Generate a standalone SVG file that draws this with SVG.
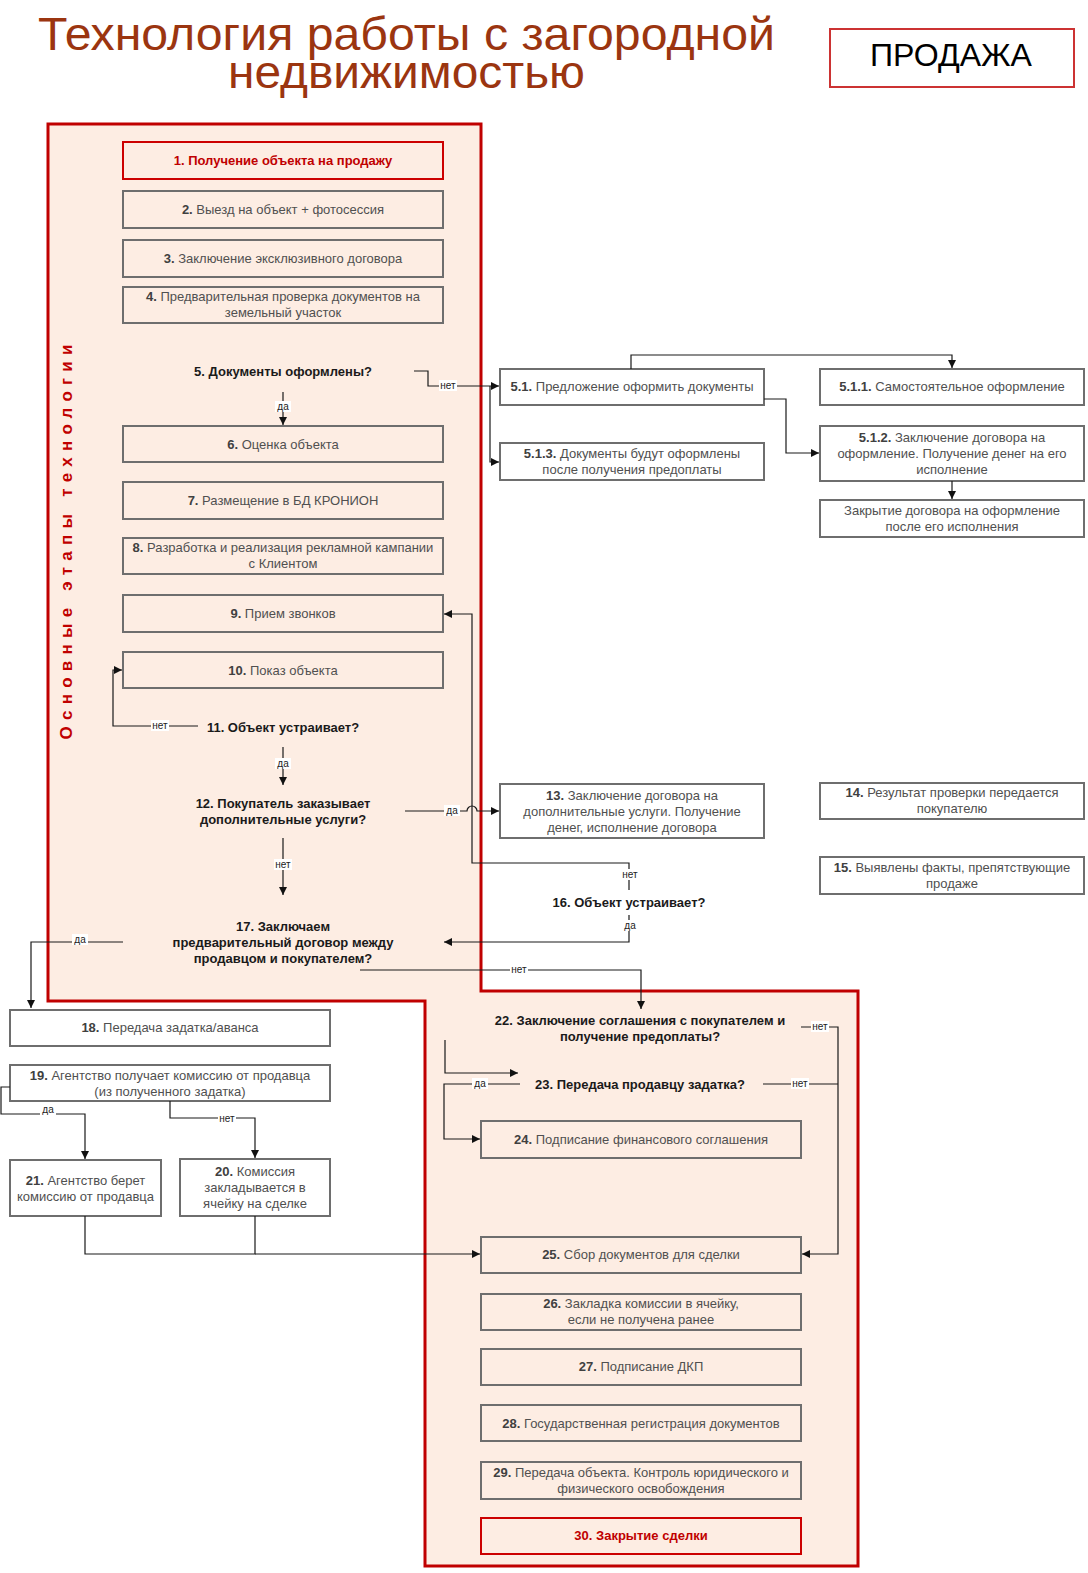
<svg xmlns="http://www.w3.org/2000/svg" width="1088" height="1573" viewBox="0 0 1088 1573">
<defs>
<style>
.t{font-family:"Liberation Sans",Arial,sans-serif;font-size:13px;fill:#505050;text-anchor:middle}
.t tspan.n{font-weight:bold;fill:#404040}
.d{font-family:"Liberation Sans",Arial,sans-serif;font-size:13px;font-weight:bold;fill:#1a1a1a;text-anchor:middle}
.box{fill:#fdede3;stroke:#6e6e6e;stroke-width:2}
.wbox{fill:#ffffff;stroke:#6e6e6e;stroke-width:2}
.rbox{fill:#fdede3;stroke:#cc0000;stroke-width:2}
.rt{font-family:"Liberation Sans",Arial,sans-serif;font-size:13px;font-weight:bold;fill:#c00000;text-anchor:middle}
.c{fill:none;stroke:#1a1a1a;stroke-width:1.2}
.cm{fill:none;stroke:#1a1a1a;stroke-width:1.2;marker-end:url(#arr)}
.lb{font-family:"Liberation Sans",Arial,sans-serif;font-size:10px;fill:#222;text-anchor:middle}
.lbg{fill:#ffffff}
</style>
<marker id="arr" viewBox="0 0 10 10" refX="10" refY="5" markerWidth="8" markerHeight="8" markerUnits="userSpaceOnUse" orient="auto">
<path d="M0,0 L10,5 L0,10 z" fill="#111"/>
</marker>
</defs>
<rect width="1088" height="1573" fill="#ffffff"/>

<g id="title">
<text x="406.5" y="50" font-family="'Liberation Sans',Arial,sans-serif" font-size="46" fill="#9b3510" text-anchor="middle" textLength="737" lengthAdjust="spacingAndGlyphs">Технология работы с загородной</text>
<text x="406.5" y="88" font-family="'Liberation Sans',Arial,sans-serif" font-size="46" fill="#9b3510" text-anchor="middle" textLength="357" lengthAdjust="spacingAndGlyphs">недвижимостью</text>
</g>
<g id="sale">
<rect x="830" y="29" width="244" height="58" fill="#ffffff" stroke="#cc3333" stroke-width="2"/>
<text x="951" y="66" font-family="'Liberation Sans',Arial,sans-serif" font-size="32" fill="#000" text-anchor="middle" textLength="162" lengthAdjust="spacingAndGlyphs">ПРОДАЖА</text>
</g>

<g id="region">
<path d="M48,124 H481 V991 H858 V1566 H425 V1001 H48 Z" fill="#fdede3" stroke="#c00000" stroke-width="3"/>
<text transform="translate(72,542) rotate(-90)" font-family="'Liberation Sans',Arial,sans-serif" font-size="17" font-weight="bold" fill="#c00000" text-anchor="middle" textLength="395" lengthAdjust="spacing">Основные этапы технологии</text>
</g>

<g id="n1"><rect class="rbox" x="123" y="142" width="320" height="37"/><text class="rt" x="283" y="165">1. Получение объекта на продажу</text></g>
<g id="n2"><rect class="box" x="123" y="191" width="320" height="37"/><text class="t" x="283" y="214"><tspan class="n">2.</tspan> Выезд на объект + фотосессия</text></g>
<g id="n3"><rect class="box" x="123" y="240" width="320" height="37"/><text class="t" x="283" y="263"><tspan class="n">3.</tspan> Заключение эксклюзивного договора</text></g>
<g id="n4"><rect class="box" x="123" y="287" width="320" height="36"/><text class="t" x="283" y="300.5"><tspan class="n">4.</tspan> Предварительная проверка документов на</text><text class="t" x="283" y="316.5">земельный участок</text></g>
<g id="n5"><text class="d" x="283" y="375.5">5. Документы оформлены?</text></g>
<g id="n6"><rect class="box" x="123" y="426" width="320" height="36"/><text class="t" x="283" y="448.5"><tspan class="n">6.</tspan> Оценка объекта</text></g>
<g id="n7"><rect class="box" x="123" y="482" width="320" height="37"/><text class="t" x="283" y="505"><tspan class="n">7.</tspan> Размещение в БД КРОНИОН</text></g>
<g id="n8"><rect class="box" x="123" y="538" width="320" height="36"/><text class="t" x="283" y="551.5"><tspan class="n">8.</tspan> Разработка и реализация рекламной кампании</text><text class="t" x="283" y="567.5">с Клиентом</text></g>
<g id="n9"><rect class="box" x="123" y="595" width="320" height="37"/><text class="t" x="283" y="618"><tspan class="n">9.</tspan> Прием звонков</text></g>
<g id="n10"><rect class="box" x="123" y="652" width="320" height="36"/><text class="t" x="283" y="674.5"><tspan class="n">10.</tspan> Показ объекта</text></g>
<g id="n11"><text class="d" x="283" y="731.5">11. Объект устраивает?</text></g>
<g id="n12"><text class="d" x="283" y="807.5">12. Покупатель заказывает</text><text class="d" x="283" y="823.5">дополнительные услуги?</text></g>
<g id="n17"><text class="d" x="283" y="930.5">17. Заключаем</text><text class="d" x="283" y="946.5">предварительный договор между</text><text class="d" x="283" y="962.5">продавцом и покупателем?</text></g>

<g id="n5_1"><rect class="wbox" x="500" y="369" width="264" height="36"/><text class="t" x="632" y="391"><tspan class="n">5.1.</tspan> Предложение оформить документы</text></g>
<g id="n5_1_1"><rect class="wbox" x="820" y="369" width="264" height="36"/><text class="t" x="952" y="391"><tspan class="n">5.1.1.</tspan> Самостоятельное оформление</text></g>
<g id="n5_1_3"><rect class="wbox" x="500" y="443" width="264" height="37"/><text class="t" x="632" y="457.5"><tspan class="n">5.1.3.</tspan> Документы будут оформлены</text><text class="t" x="632" y="473.5">после получения предоплаты</text></g>
<g id="n5_1_2"><rect class="wbox" x="820" y="426" width="264" height="55"/><text class="t" x="952" y="441.5"><tspan class="n">5.1.2.</tspan> Заключение договора на</text><text class="t" x="952" y="457.5">оформление. Получение денег на его</text><text class="t" x="952" y="473.5">исполнение</text></g>
<g id="n5_close"><rect class="wbox" x="820" y="500" width="264" height="37"/><text class="t" x="952" y="514.5">Закрытие договора на оформление</text><text class="t" x="952" y="530.5">после его исполнения</text></g>
<g id="n13"><rect class="wbox" x="500" y="784" width="264" height="54"/><text class="t" x="632" y="799.5"><tspan class="n">13.</tspan> Заключение договора на</text><text class="t" x="632" y="815.5">дополнительные услуги. Получение</text><text class="t" x="632" y="831.5">денег, исполнение договора</text></g>
<g id="n14"><rect class="wbox" x="820" y="783" width="264" height="36"/><text class="t" x="952" y="796.5"><tspan class="n">14.</tspan> Результат проверки передается</text><text class="t" x="952" y="812.5">покупателю</text></g>
<g id="n15"><rect class="wbox" x="820" y="857" width="264" height="37"/><text class="t" x="952" y="871.5"><tspan class="n">15.</tspan> Выявлены факты, препятствующие</text><text class="t" x="952" y="887.5">продаже</text></g>
<g id="n16"><text class="d" x="629" y="906.5">16. Объект устраивает?</text></g>

<g id="n18"><rect class="wbox" x="10" y="1010" width="320" height="36"/><text class="t" x="170" y="1031.5"><tspan class="n">18.</tspan> Передача задатка/аванса</text></g>
<g id="n19"><rect class="wbox" x="10" y="1065" width="320" height="36"/><text class="t" x="170" y="1079.5"><tspan class="n">19.</tspan> Агентство получает комиссию от продавца</text><text class="t" x="170" y="1095.5">(из полученного задатка)</text></g>
<g id="n21"><rect class="wbox" x="10" y="1160" width="151" height="56"/><text class="t" x="85.5" y="1184.5"><tspan class="n">21.</tspan> Агентство берет</text><text class="t" x="85.5" y="1200.5">комиссию от продавца</text></g>
<g id="n20"><rect class="wbox" x="180" y="1159" width="150" height="57"/><text class="t" x="255" y="1175.5"><tspan class="n">20.</tspan> Комиссия</text><text class="t" x="255" y="1191.5">закладывается в</text><text class="t" x="255" y="1207.5">ячейку на сделке</text></g>

<g id="n22"><text class="d" x="640" y="1024.5">22. Заключение соглашения с покупателем и</text><text class="d" x="640" y="1040.5">получение предоплаты?</text></g>
<g id="n23"><text class="d" x="640" y="1088.5">23. Передача продавцу задатка?</text></g>
<g id="n24"><rect class="box" x="481" y="1121" width="320" height="37"/><text class="t" x="641" y="1143.5"><tspan class="n">24.</tspan> Подписание финансового соглашения</text></g>
<g id="n25"><rect class="box" x="481" y="1237" width="320" height="36"/><text class="t" x="641" y="1259"><tspan class="n">25.</tspan> Сбор документов для сделки</text></g>
<g id="n26"><rect class="box" x="481" y="1294" width="320" height="36"/><text class="t" x="641" y="1307.5"><tspan class="n">26.</tspan> Закладка комиссии в ячейку,</text><text class="t" x="641" y="1323.5">если не получена ранее</text></g>
<g id="n27"><rect class="box" x="481" y="1349" width="320" height="36"/><text class="t" x="641" y="1371"><tspan class="n">27.</tspan> Подписание ДКП</text></g>
<g id="n28"><rect class="box" x="481" y="1405" width="320" height="36"/><text class="t" x="641" y="1427.5"><tspan class="n">28.</tspan> Государственная регистрация документов</text></g>
<g id="n29"><rect class="box" x="481" y="1462" width="320" height="37"/><text class="t" x="641" y="1476.5"><tspan class="n">29.</tspan> Передача объекта. Контроль юридического и</text><text class="t" x="641" y="1492.5">физического освобождения</text></g>
<g id="n30"><rect class="rbox" x="481" y="1518" width="320" height="36"/><text class="rt" x="641" y="1540">30. Закрытие сделки</text></g>

<g id="connectors">
<path class="cm" d="M414,371 H428 V386 H499"/>
<path class="cm" d="M490,386 V462 H499"/>
<path class="cm" d="M283,392 V425"/>
<path class="cm" d="M631,369 V355 H952 V368"/>
<path class="cm" d="M764,399 H786 V453 H819"/>
<path class="cm" d="M952,481 V499"/>
<path class="cm" d="M198,726 H113 V670 H122"/>
<path class="cm" d="M283,747 V785"/>
<path class="cm" d="M405,811 H467 a5,5 0 0 1 10,0 H499"/>
<path class="cm" d="M629,890 V863 H472 V614 H444"/>
<path class="cm" d="M283,838 V895"/>
<path class="cm" d="M629,915 V942 H444"/>
<path class="cm" d="M123,942 H31 V1008"/>
<path class="cm" d="M360,970 H641 V1009"/>
<path class="cm" d="M10,1087 H1 V1114 H85 V1159"/>
<path class="cm" d="M170,1101 V1118 H255 V1158"/>
<path class="c" d="M85,1216 V1254 H255 V1216"/>
<path class="cm" d="M255,1254 H480"/>
<path class="cm" d="M801,1027 H838 V1254 H802"/>
<path class="c" d="M763,1084 H838"/>
<path class="cm" d="M445,1040 V1073 H518"/>
<path class="cm" d="M520,1084 H444 V1139 H480"/>

<g id="labels">
<rect class="lbg" x="439" y="380" width="18" height="11"/><text class="lb" x="448" y="389">нет</text>
<rect class="lbg" x="275" y="401" width="16" height="11"/><text class="lb" x="283" y="410">да</text>
<rect class="lbg" x="151" y="720" width="18" height="11"/><text class="lb" x="160" y="729">нет</text>
<rect class="lbg" x="275" y="758" width="16" height="11"/><text class="lb" x="283" y="767">да</text>
<rect class="lbg" x="444" y="805" width="16" height="11"/><text class="lb" x="452" y="814">да</text>
<rect class="lbg" x="274" y="859" width="18" height="11"/><text class="lb" x="283" y="868">нет</text>
<rect class="lbg" x="621" y="869" width="18" height="11"/><text class="lb" x="630" y="878">нет</text>
<rect class="lbg" x="622" y="920" width="16" height="11"/><text class="lb" x="630" y="929">да</text>
<rect class="lbg" x="72" y="934" width="16" height="11"/><text class="lb" x="80" y="943">да</text>
<rect class="lbg" x="510" y="964" width="18" height="11"/><text class="lb" x="519" y="973">нет</text>
<rect class="lbg" x="40" y="1104" width="16" height="11"/><text class="lb" x="48" y="1113">да</text>
<rect class="lbg" x="218" y="1113" width="18" height="11"/><text class="lb" x="227" y="1122">нет</text>
<rect class="lbg" x="811" y="1021" width="18" height="11"/><text class="lb" x="820" y="1030">нет</text>
<rect class="lbg" x="791" y="1078" width="18" height="11"/><text class="lb" x="800" y="1087">нет</text>
<rect class="lbg" x="472" y="1078" width="16" height="11"/><text class="lb" x="480" y="1087">да</text>
</g>
</g>
</svg>
